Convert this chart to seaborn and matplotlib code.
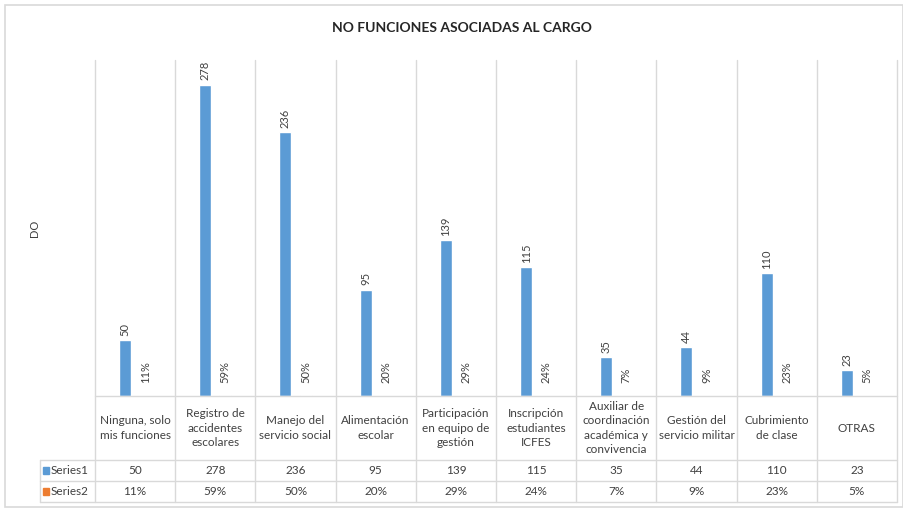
import numpy as np
import pandas as pd
import matplotlib
matplotlib.use("Agg")
import matplotlib.pyplot as plt
import matplotlib.transforms as mtransforms
from matplotlib.patches import Rectangle
import seaborn as sns

# ---- data ----
categories = ["Ninguna, solo\nmis funciones", "Registro de\naccidentes\nescolares",
              "Manejo del\nservicio social", "Alimentación\nescolar",
              "Participación\nen equipo de\ngestión", "Inscripción\nestudiantes\nICFES",
              "Auxiliar de\ncoordinación\nacadémica y\nconvivencia",
              "Gestión del\nservicio militar", "Cubrimiento\nde clase", "OTRAS"]
series1 = [50, 278, 236, 95, 139, 115, 35, 44, 110, 23]
series2 = [0.11, 0.59, 0.50, 0.20, 0.29, 0.24, 0.07, 0.09, 0.23, 0.05]
series_names = ["Series1", "Series2"]
chart_title = "NO FUNCIONES ASOCIADAS AL CARGO"
y_label = "DO"

blue = "#5B9BD5"
orange = "#ED7D31"
grid_c = "#D9D9D9"
text_c = "#404040"

df = pd.DataFrame({
    "cat": categories * 2,
    "series": [series_names[0]] * len(categories) + [series_names[1]] * len(categories),
    "value": series1 + series2,
})

sns.set_theme(style="white")
plt.rcParams["font.family"] = ["Lato", "DejaVu Sans"]

W, H = 904, 508
fig = plt.figure(figsize=(W / 100, H / 100), dpi=100)
ax_l, ax_r, ax_t, ax_b = 95, 897, 60, 396
ax = fig.add_axes([ax_l / W, (H - ax_b) / H, (ax_r - ax_l) / W, (ax_b - ax_t) / H])
aw, ah = ax_r - ax_l, ax_b - ax_t

sns.barplot(data=df, x="cat", y="value", hue="series", order=categories,
            hue_order=series_names, palette=[blue, orange], width=0.5, gap=0.4,
            saturation=1, errorbar=None, legend=False, ax=ax)

ax.set_xlim(-0.5, len(categories) - 0.5)
ax.set_ylim(0, 300)
ax.set_xticks(range(len(categories)), [""] * len(categories))
ax.set_yticks([])
ax.tick_params(length=0)
ax.set_xlabel("")
ax.set_ylabel(y_label, fontsize=8, color=text_c)
ax.yaxis.set_label_coords(-55 / aw, 0.5)
for s in ax.spines.values():
    s.set_visible(False)

ax.bar_label(ax.containers[0], labels=[str(v) for v in series1], rotation=90,
             padding=3, fontsize=8, color=text_c)
ax.bar_label(ax.containers[1], labels=[f"{v:.0%}" for v in series2], rotation=90,
             padding=9, fontsize=8, color=text_c)

blend = mtransforms.blended_transform_factory(ax.transData, ax.transAxes)
y_r1 = (ax_b - 460) / ah
y_r2 = (ax_b - 481) / ah
y_r3 = (ax_b - 502) / ah
x_leg = (40 - ax_l) / aw

# vertical grid / table lines
for b in np.arange(-0.5, len(categories), 1.0):
    ax.plot([b, b], [y_r3, 1], transform=blend, color=grid_c, lw=1, clip_on=False)
# horizontal table lines
ax.plot([0, 1], [0, 0], transform=ax.transAxes, color=grid_c, lw=1, clip_on=False)
for yy in (y_r1, y_r2, y_r3):
    ax.plot([x_leg, 1], [yy, yy], transform=ax.transAxes, color=grid_c, lw=1, clip_on=False)
ax.plot([x_leg, x_leg], [y_r1, y_r3], transform=ax.transAxes, color=grid_c, lw=1, clip_on=False)

# table text
for i, c in enumerate(categories):
    ax.text(i, (ax_b - 428) / ah, c, transform=blend, ha="center", va="center",
            fontsize=8.5, color=text_c, linespacing=1.35)
    ax.text(i, (ax_b - 470.5) / ah, str(series1[i]), transform=blend, ha="center",
            va="center", fontsize=8.5, color=text_c)
    ax.text(i, (ax_b - 491.5) / ah, f"{series2[i]:.0%}", transform=blend, ha="center",
            va="center", fontsize=8.5, color=text_c)

# legend keys
for yc, name, col in (((ax_b - 470.5) / ah, series_names[0], blue),
                      ((ax_b - 491.5) / ah, series_names[1], orange)):
    ax.add_patch(Rectangle(((43 - ax_l) / aw, yc - 3.5 / ah), 6 / aw, 7 / ah,
                           transform=ax.transAxes, color=col, clip_on=False))
    ax.text((51 - ax_l) / aw, yc, name, transform=ax.transAxes, ha="left", va="center",
            fontsize=8.5, color=text_c)

fig.text(462 / W, 1 - 28 / H, chart_title, ha="center", va="center", fontsize=10,
         fontweight="bold", color="#262626")

fig.add_artist(Rectangle((5 / W, 1 / H), 898 / W, 502 / H, transform=fig.transFigure,
                         fill=False, edgecolor=grid_c, lw=1.2))

fig.savefig("out.png", dpi=100)
